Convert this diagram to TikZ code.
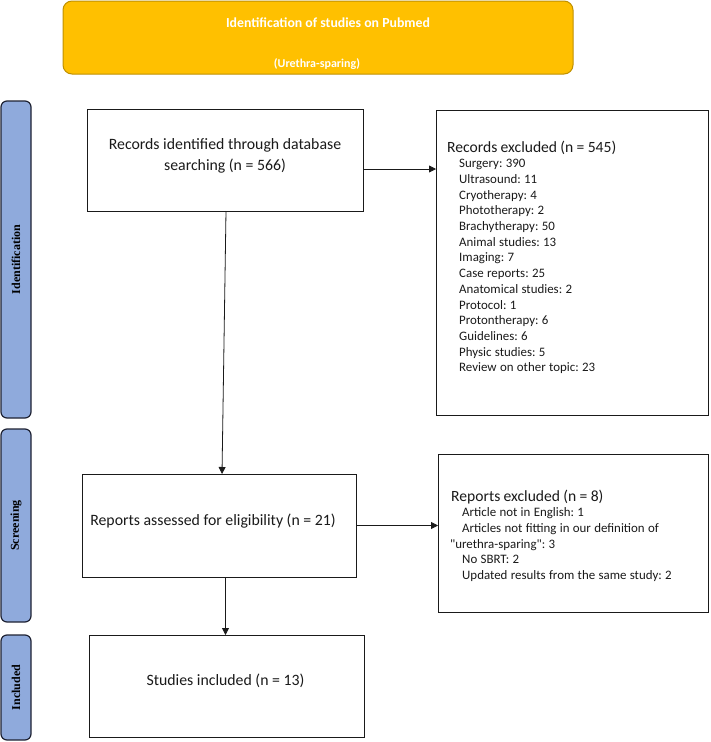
\documentclass[tikz,border=0pt]{standalone}
\usepackage{fontspec}
\usepackage{graphicx}
\setmainfont{Carlito}
\newfontfamily\timesfont{Liberation Serif}
\usetikzlibrary{arrows.meta,calc}
\definecolor{gold}{HTML}{FFC000}
\definecolor{goldedge}{HTML}{BF9000}
\definecolor{barblue}{HTML}{8FAADC}
\definecolor{baredge}{HTML}{1E2233}
\definecolor{ink}{HTML}{1A1A1A}
\frenchspacing
\begin{document}
\frenchspacing
\begin{tikzpicture}[x=1pt,y=-1pt,
  box/.style={draw=ink, line width=1pt, fill=white, inner sep=0pt, outer sep=0pt},
  bar/.style={draw=baredge, line width=1.2pt, fill=barblue, rounded corners=6pt, minimum width=30pt, inner sep=0pt, outer sep=0pt, font=\timesfont\bfseries\fontsize{12}{14}\selectfont},
  titlebox/.style={draw=goldedge, line width=1pt, fill=gold, rounded corners=9pt, inner sep=0pt},
  maintxt/.style={inner sep=0pt, font=\fontsize{15.8}{21}\selectfont, text=ink},
  listtxt/.style={inner sep=0pt, align=left, text width=255pt, text=ink},
  arr/.style={draw=ink, line width=0.8pt, -{Triangle[length=7pt,width=7pt]}}
]
\useasboundingbox (0,0) rectangle (710,742);

% title banner
\node[titlebox, minimum width=510pt, minimum height=73pt] (title) at (318,37.5) {};
\node[inner sep=0pt, anchor=base, text=white, font=\bfseries\fontsize{13.8}{16}\selectfont] (titleA) at (328,27) {Identification of studies on Pubmed};
\node[inner sep=0pt, anchor=base, text=white, font=\bfseries\fontsize{12}{14}\selectfont] (titleB) at (317,67.5) {(Urethra-sparing)};

% phase bars
\node[bar, minimum height=317pt] (ident) at (16,259.5) {\rotatebox{90}{Identification}};
\node[bar, minimum height=193pt] (screen) at (16,525.5) {\rotatebox{90}{Screening}};
\node[bar, minimum height=105pt] (incl) at (16,687.5) {\rotatebox{90}{Included}};

% boxes
\node[box, minimum width=276pt, minimum height=102pt] (recid) at (225,160) {};
\node[maintxt, align=center, anchor=base] (recidT) at (225,170) {Records identified through database\\searching (n = 566)};

\node[box, minimum width=272pt, minimum height=305pt] (excl) at (572,262.5) {};
\node[listtxt, anchor=base west] (exclT) at (447,152) {%
{\fontsize{15.6}{17}\selectfont Records excluded (n = 545)\par}%
\fontsize{12.9}{15.7}\selectfont
\hspace*{12pt}Surgery: 390\\
\hspace*{12pt}Ultrasound: 11\\
\hspace*{12pt}Cryotherapy: 4\\
\hspace*{12pt}Phototherapy: 2\\
\hspace*{12pt}Brachytherapy: 50\\
\hspace*{12pt}Animal studies: 13\\
\hspace*{12pt}Imaging: 7\\
\hspace*{12pt}Case reports: 25\\
\hspace*{12pt}Anatomical studies: 2\\
\hspace*{12pt}Protocol: 1\\
\hspace*{12pt}Protontherapy: 6\\
\hspace*{12pt}Guidelines: 6\\
\hspace*{12pt}Physic studies: 5\\
\hspace*{12pt}Review on other topic: 23\par};

\node[box, minimum width=274pt, minimum height=103pt] (assess) at (219,525.5) {};
\node[maintxt, anchor=base] (assessT) at (213,525) {Reports assessed for eligibility (n = 21)};

\node[box, minimum width=270pt, minimum height=158pt] (rexcl) at (573,533) {};
\node[listtxt, anchor=base west] (rexclT) at (450,501) {%
{\fontsize{15.6}{17}\selectfont\hspace*{1pt}Reports excluded (n = 8)\par}%
\fontsize{12.9}{15.7}\selectfont
\hspace*{12pt}Article not in English: 1\\
\hspace*{12pt}Articles not fitting in our definition of\\
\textquotedbl urethra-sparing\textquotedbl: 3\\
\hspace*{12pt}No SBRT: 2\\
\hspace*{12pt}Updated results from the same study: 2\par};

\node[box, minimum width=275pt, minimum height=102pt] (studies) at (226.5,686) {};
\node[maintxt, anchor=base] (studiesT) at (225.5,685) {Studies included (n = 13)};

% connectors
\draw[arr] ([xshift=1pt]recid.south) -- ([xshift=3pt]assess.north);
\draw[arr] ([yshift=-9pt]recid.east) -- ([yshift=-9pt]recid.east -| excl.west);
\draw[arr] (assess.east) -- (assess.east -| rexcl.west);
\draw[arr] ([xshift=-1pt]studies.north |- assess.south) -- ([xshift=-1pt]studies.north);
\end{tikzpicture}
\end{document}
